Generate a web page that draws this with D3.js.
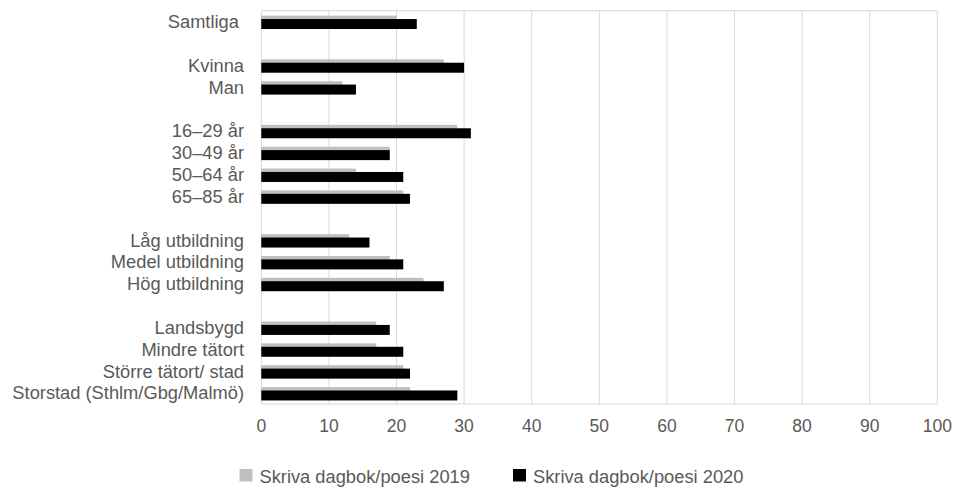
<!DOCTYPE html>
<html>
<head>
<meta charset="utf-8">
<script src="https://cdn.jsdelivr.net/npm/d3@7"></script>
<style>
  html, body { margin: 0; padding: 0; background: #ffffff; }
  svg { display: block; }
  text { font-family: "Liberation Sans", Arial, sans-serif; fill: #595959; white-space: pre; }
</style>
</head>
<body>
<svg id="chart" width="957" height="489"></svg>
<script>
// Rows (empty strings are spacer rows)
const categories = [
  "Samtliga ", "",
  "Kvinna", "Man", "",
  "16–29 år", "30–49 år", "50–64 år", "65–85 år", "",
  "Låg utbildning", "Medel utbildning", "Hög utbildning", "",
  "Landsbygd", "Mindre tätort", "Större tätort/ stad", "Storstad (Sthlm/Gbg/Malmö)"
];
const values2019 = [20, null, 27, 12, null, 29, 19, 14, 21, null, 13, 19, 24, null, 17, 17, 21, 22];
const values2020 = [23, null, 30, 14, null, 31, 19, 21, 22, null, 16, 21, 27, null, 19, 21, 22, 29];
const seriesNames = ["Skriva dagbok/poesi 2019", "Skriva dagbok/poesi 2020"];
const seriesColors = ["#bfbfbf", "#000000"];
const xTicks = [0, 10, 20, 30, 40, 50, 60, 70, 80, 90, 100];

const svg = d3.select("#chart");
const margin = { left: 261.3, right: 957 - 937.3, top: 10.7, bottom: 489 - 404 };
const W = 957, H = 489;

const x = d3.scaleLinear().domain([0, 100]).range([margin.left, W - margin.right]);
const y = d3.scaleBand().domain(d3.range(categories.length)).range([margin.top, H - margin.bottom]).padding(0);

// gridlines
svg.append("g").selectAll("line").data(xTicks).join("line")
  .attr("x1", d => x(d)).attr("x2", d => x(d))
  .attr("y1", margin.top).attr("y2", H - margin.bottom)
  .attr("stroke", "#d9d9d9").attr("stroke-width", 1);
// top border
svg.append("line").attr("x1", x(0)).attr("x2", x(100))
  .attr("y1", margin.top).attr("y2", margin.top)
  .attr("stroke", "#d9d9d9");
// bottom axis line
svg.append("line").attr("x1", x(0)).attr("x2", x(100))
  .attr("y1", H - margin.bottom).attr("y2", H - margin.bottom)
  .attr("stroke", "#d9d9d9");

const bh = 10;
// 2019 bars (behind)
svg.append("g").selectAll("rect").data(values2019.map((v, i) => ({ v, i })).filter(d => d.v != null)).join("rect")
  .attr("x", x(0))
  .attr("y", d => y(d.i) + y.bandwidth() / 2 - 6)
  .attr("width", d => x(d.v) - x(0))
  .attr("height", bh)
  .attr("fill", seriesColors[0]);
// 2020 bars
svg.append("g").selectAll("rect").data(values2020.map((v, i) => ({ v, i })).filter(d => d.v != null)).join("rect")
  .attr("x", x(0))
  .attr("y", d => y(d.i) + y.bandwidth() / 2 - 2.6)
  .attr("width", d => x(d.v) - x(0))
  .attr("height", bh)
  .attr("fill", seriesColors[1]);

// category labels
svg.append("g").selectAll("text").data(categories.map((c, i) => ({ c, i })).filter(d => d.c)).join("text")
  .attr("x", 244)
  .attr("y", d => y(d.i) + y.bandwidth() / 2)
  .attr("dy", "0.35em")
  .attr("text-anchor", "end")
  .attr("font-size", 18.3)
  .text(d => d.c);

// x tick labels
svg.append("g").selectAll("text").data(xTicks).join("text")
  .attr("x", d => x(d))
  .attr("y", 426)
  .attr("dy", "0.35em")
  .attr("text-anchor", "middle")
  .attr("font-size", 17.5)
  .text(d => d);

// legend
const legend = svg.append("g");
const legendItems = [
  { name: seriesNames[0], color: seriesColors[0], x: 239.5 },
  { name: seriesNames[1], color: seriesColors[1], x: 513 }
];
legendItems.forEach(it => {
  legend.append("rect").attr("x", it.x).attr("y", 469).attr("width", 13).attr("height", 12.5).attr("fill", it.color);
  legend.append("text").attr("x", it.x + 20).attr("y", 477).attr("dy", "0.35em")
    .attr("font-size", 18.3).text(it.name);
});
</script>
</body>
</html>
